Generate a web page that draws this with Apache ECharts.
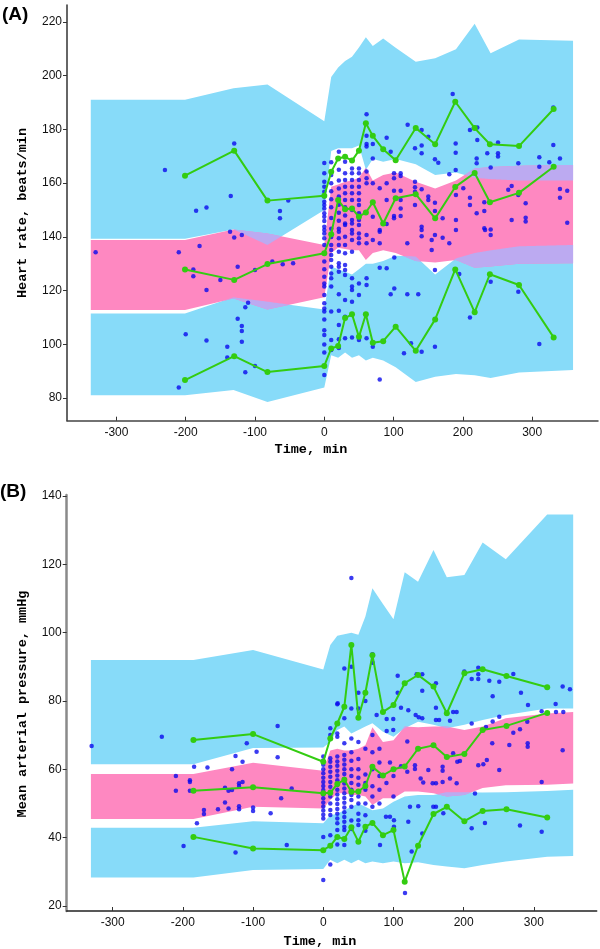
<!DOCTYPE html>
<html><head><meta charset="utf-8">
<script src="https://cdn.jsdelivr.net/npm/echarts@6/dist/echarts.min.js"></script>
<style>html,body{margin:0;padding:0;background:#fff}#c{width:600px;height:949px}</style>
</head><body><div id="c"></div>
<script>
// ---------- Tick labels ----------
const xTicks = [-300, -200, -100, 0, 100, 200, 300];
const aYTicks = [80, 100, 120, 140, 160, 180, 200, 220];
const bYTicks = [20, 40, 60, 80, 100, 120, 140];

// ---------- Panel A: bands (simulated 90% CIs) ----------
const aBandX = [-337, -201, -131, -82, 0, 10, 20, 30, 40, 50, 60, 70, 85, 103, 132, 160, 190, 217, 240, 281, 359];
const aUpHi  = [191, 191, 195.3, 196.7, 183, 199.5, 203, 205.5, 207, 210.5, 214.3, 211, 213.8, 210.4, 205.2, 206.5, 209.8, 219.3, 208.3, 213.5, 213];
const aUpLo  = [139.3, 139.3, 142.8, 137, 150, 172, 173, 173, 173, 174, 165, 169, 168, 169, 167, 163, 164, 162, 161.5, 161, 161];
const aMedHi = [138.8, 138.8, 142.8, 141.3, 137, 158.7, 159.5, 160.5, 161, 162, 165.7, 161, 163, 164, 160.5, 158, 161, 165.5, 166, 166.5, 166.8];
const aMedLo = [112.8, 112.8, 117.1, 113, 117.5, 134, 136, 135.5, 135, 135, 131.4, 134, 135, 134, 131, 130.5, 131.4, 128.5, 129, 130, 130.2];
const aLowHi = [111.5, 111.5, 117.5, 115.9, 113, 129, 128, 127, 126, 128, 130, 130, 131, 133, 132.7, 126, 132, 134, 135, 136.5, 137];
const aLowLo = [81.1, 81.1, 83, 78.6, 84, 96, 95, 97, 95, 96, 94, 95, 94, 91.5, 86, 88, 89, 88.5, 87.5, 89.5, 90.5];

// ---------- Panel A: observed percentiles ----------
const aPctX  = [-201, -130, -82, 0, 10, 20, 30, 40, 50, 60, 70, 85, 103, 132, 160, 189, 217, 239, 281, 331];
const aP95   = [162.8, 172.1, 153.5, 155.3, 164.2, 169.2, 169.8, 168.4, 172.1, 182.3, 177.6, 172.6, 168.5, 180.5, 174.5, 190.3, 180.5, 174.5, 173.8, 187.6];
const aP50   = [127.9, 124, 129.9, 133.9, 141, 153.7, 150.3, 150.6, 147.5, 149.1, 152.9, 145, 154.4, 155.9, 146.9, 158.6, 163.8, 152.9, 156.4, 166.1];
const aP05   = [86.7, 95.6, 89.7, 92, 98.5, 99.4, 109.8, 111.2, 102.8, 111.2, 100.6, 101.2, 106.6, 97.6, 109.3, 127.9, 112, 126.1, 122.1, 102.6];

// ---------- Panel A: observations ----------
const aObsPre = [[-330,134.3],[-230,164.9],[-210,134.3],[-210,84],[-200,103.8],[-189,127.9],[-189,125.4],[-185,149.7],[-180,136.6],[-170,150.9],[-170,120.2],[-170,101.4],[-150,124],[-140,99.1],[-140,95.1],[-136,141.9],[-135,155.2],[-130,174.8],[-130,139.8],[-125,128.9],[-125,109.5],[-119,140.7],[-119,106.8],[-119,105],[-119,101],[-114,113.8],[-114,89.6],[-110,115.5],[-100,127.7],[-100,92],[-75,130.8],[-64,149.6],[-64,146.9],[-60,129.8],[-52,153.5],[-45,130.2]];
const aColX = [0, 10, 21, 30, 40, 50];
const aColY = [
  [167.5,163.7,160.5,158.7,156.8,155,153.1,151.9,150.6,148.8,147.5,145.9,143.8,142.6,141.3,139.5,137,133.9,130.8,128,125.2,122.7,121.5,118.4,115.3,113.4,112.2,109.3,105.3,103.5,100,97,88.6],
  [167.8,163,160,157,154,151,147,143,140,137,135.1,133.3,131.4,128.9,126.4,124.6,121.5,112.2,101.6,97.9],
  [171.7,165,161,158,155,152,149,146,143,141.9,139.5,137,134.5,130.2,128.9,127,118.7,112.5,107.2,101.9,98.7],
  [168,163.7,161.2,158.7,156.2,153.7,151,148,145,144.4,140.1,137,133.9,129.5,127.7,125.8,116.5,110.3,102.3],
  [165.5,163.7,161.2,158.7,156.2,153.7,150,146.3,145,142.6,141.3,138.8,134.5,124.6,121.5,120.2,115.9,102.6],
  [165.5,163.7,161.2,158.7,156.2,153.7,151.9,148.8,146.3,144.4,141.3,139.5,137.6,122.7,118.4,103.1,101.6]
];
const aObsPost = [[61,185.6],[61,177.6],[61,174.6],[61,173.6],[61,164.3],[61,161.8],[61,160],[61,140.7],[61,137.6],[61,124.6],[61,122.1],[61,102.3],
[70,174.6],[70,169.2],[70,160],[70,147.5],[70,138.8],[70,99.1],[80,158.1],[80,142.6],[80,141.9],[80,137.6],[80,128.5],[80,86.9],
[90,176.9],[90,160],[90,153.7],[90,144.8],[90,128.3],[95.8,171.7],[95.8,118.7],[100.6,163.7],[100.6,161.8],[101,120.8],[101,132.3],[100.6,157.2],[100.6,147.8],[100.6,146.9],
[110.2,163.7],[110.2,162.7],[110.2,157.2],[110.2,153.7],[110.2,150.6],[110.2,147.8],[115,96.7],[119.8,137.6],[119.8,118.7],[120.3,181.7],[125.1,100.4],
[130.9,173],[130.9,160.5],[130.9,158.5],[130.9,156.8],[130.9,151.9],[135.6,118.7],[140.5,179.8],[140.5,174],[140.5,171.1],[140.5,157.7],[140.5,142.6],[140.5,140.2],[140.5,143.8],[140.5,97.3],
[150.1,177.3],[150.1,155],[150.1,153.7],[155,138.8],[155,135.1],[159.7,168.9],[159.7,152.7],[159.7,149.6],[159.7,140.7],[159.7,127.7],[159.7,99.1],[164.5,167.6],[170.8,146.9],[170.8,139.7],
[180.4,163.3],[180.4,137.6],[185.3,193.2],[189.6,174.8],[189.6,171.3],[190,155.6],[190,146.3],[190,142.6],[189.6,164.9],[194.8,126.2],[200.6,158.1],
[210.2,179.8],[210.2,154.6],[210.2,151.9],[210.2,110],[216,180.7],[220.8,180.7],[220.8,176.1],[219.9,169.2],[219.9,167.4],[219.9,148.8],[230.9,152.9],[230.9,149.6],[230.9,143.2],[232,142.6],
[235.2,171.1],[240.1,165.8],[240.1,142.8],[240.1,140.7],[240.1,123.3],[250.7,175.1],[250.7,171.1],[250.7,169.9],[265.5,157.5],[270.4,158.9],[270.4,146.3],
[280,167.4],[280,155.6],[280,119.6],[290.6,152.5],[290.6,147.1],[290.6,145.7],[310.3,169.6],[310.3,166.1],[310.3,100.1],[324.7,167.8],[330.5,174.2],[330.5,188.2],
[340.1,169.2],[340.1,157.8],[340.1,154.6],[350.6,157.2],[350.6,145.3]];

// ---------- Panel B: bands ----------
const bBandX = [-331, -185, -100, 0, 10, 20, 30, 40, 50, 60, 70, 85, 100, 116, 135, 157, 176, 201, 227, 260, 319, 356];
const bUpHi  = [92, 92, 94.9, 89.2, 96.4, 99.1, 99.5, 100, 99.4, 104.7, 113, 108.4, 103.9, 117.7, 114.9, 124.2, 116.2, 116.9, 126.4, 121.5, 134.6, 134.6];
const bUpLo  = [61.5, 61.5, 66.2, 66.4, 68, 71.5, 72.5, 70.5, 71.5, 72.5, 73.5, 71, 69.5, 72, 73.9, 73, 72, 73, 74.4, 75.9, 77.8, 77.8];
const bMedHi = [58.6, 58.6, 61.9, 59.6, 65.5, 66, 65.5, 65.5, 66, 67, 72.3, 68, 68.5, 72.5, 72.3, 72.5, 72.5, 71.5, 72.5, 74.9, 76.3, 76.8];
const bMedLo = [45.4, 45.4, 49.0, 48.5, 51, 53, 53, 52.5, 52.5, 52, 49.5, 51.5, 51.5, 53.5, 53.5, 53, 52, 52.5, 54.5, 55.3, 55.5, 55.8];
const bLowHi = [42.9, 42.9, 44.8, 44.2, 46.5, 47, 48, 49, 50, 49, 48, 48.5, 50.5, 52, 52.5, 52.5, 53.3, 53.3, 53.2, 53.3, 53.6, 54];
const bLowLo = [28.3, 28.3, 30.5, 30.8, 33.5, 32.5, 33.5, 32.5, 33.5, 32.5, 33, 32.5, 33, 32.5, 32.8, 32, 31.5, 31, 32, 33, 34.4, 34.6];

// ---------- Panel B: observed percentiles ----------
const bPctX = [-185, -100, 0, 10, 20, 30, 40, 50, 60, 70, 85, 100, 116, 135, 157, 176, 201, 227, 261, 319];
const bP95  = [68.6, 70.3, 62.2, 69, 73.4, 78.3, 96.4, 75.1, 82.4, 93.4, 76.8, 78.8, 85.2, 87.6, 84.2, 76.4, 88.1, 89.3, 87.3, 84];
const bP50  = [53.7, 54.7, 53, 53.1, 55.7, 56.9, 53.4, 53.5, 55.1, 60.7, 58.2, 60, 60.8, 66, 67, 63.6, 64.5, 71.5, 72.7, 76.5];
const bP05  = [40.2, 36.8, 36.3, 37.6, 40.2, 39.6, 43, 38.8, 43.2, 44.3, 40.7, 42.2, 27.1, 37.6, 46.9, 49, 44.8, 47.8, 48.3, 45.9];

// ---------- Panel B: observations ----------
const bObsPre = [[-330,66.8],[-230,69.5],[-210,58],[-210,53.7],[-199,37.5],[-190,56.8],[-190,56.3],[-190,53.7],[-184,60.7],[-180,44.2],[-170,48.1],[-170,46.9],[-165,60.5],[-150,48.3],[-140,54.6],[-140,50.3],[-135,53.7],[-135,48.5],[-130,53.9],[-130,60],[-125,63.9],[-125,35.6],[-120,55.9],[-120,55.1],[-120,49.2],[-120,48.3],[-115,56.3],[-115,62.2],[-109,67.6],[-100,48.8],[-100,47.8],[-95,65.1],[-75,47.1],[-65,72.7],[-65,63.5],[-60,51.5],[-52,37.8],[-45,54.4]];
const bColX = [0, 10, 20, 30, 40, 50];
const bColY = [
  [63.7,62.5,61.3,60,58.8,57.5,56.3,55.1,53.9,52.7,51.5,50.3,49.1,47.9,46.7,45.6,40.2,27.6],
  [72,70,63.2,62.2,60.7,59.3,57.8,56.3,54.9,53.4,52,50,48.1,46.6,40.7,32.1],
  [79,73.4,70.5,69.5,63.7,62.3,61,59.6,58.2,56.8,55.4,54,52.6,51.2,49.8,48.4,47,45.6,44.2,42.2,38],
  [89.5,74.9,67.6,64.2,62.8,61.4,60,58.6,57.2,55.8,54.4,53,51.6,50.2,48.8,47.4,46,44.6,43.2,42.2,37.8],
  [116,90,77.8,69,65,62.5,60,58,56,54,52.5,51,49,45,42.5],
  [82.4,77.8,68,63,60,57.5,55.5,53.5,52,50,47,45.1,43.7]
];
const bObsPost = [[20.5,79.3],[60,80],[60,66],[60,58.5],[60,56],[60,54],[60,50],[60,46.5],[60,42],
[70,93.7],[70.3,91.2],[70,70],[70,65],[70,60],[70,55],[70,52],[70,49],[70,44.3],[76,75.9],[80,66],[80,62],[80,58],[80,54],[80,50],[80.8,37.8],
[90.3,74.7],[99.7,74.7],[90.3,71.2],[99.7,71.5],[89.3,46.1],[95,46.1],[100.7,45.1],[100.7,43.2],[95,62],[100,58],[90,56],[100,52],
[106,87.4],[106,82.4],[110.7,78],[121.1,77.3],[110.7,60.9],[119.7,59.3],[119.7,68.1],[123.5,49],[121.1,44.6],[125.9,35.9],[116.4,23.8],
[133,87.8],[141,87.8],[141,83],[131.6,75.9],[136,75.2],[141,74.9],[130.6,60.1],[130.6,61.2],[135.3,49.2],[138.7,57.3],[142.4,56.1],[141,41.2],
[149.6,59.8],[155.8,55.9],[160.5,85.2],[160.5,78],[160.5,74.4],[165,74.4],[160.5,55.9],[160.5,49],[156.7,49],[171,47.1],
[170,60.7],[170,59.6],[170,56.3],[180.5,74.2],[180.5,57.3],[185,76.8],[190,76.8],[190,55.9],[190.9,62.2],[185,64.7],[194.7,62.4],[200.9,88.6],
[211.4,86.4],[220.8,89.7],[220.8,87.8],[220.8,86.4],[211.4,73.4],[216.1,52.9],[211.4,42.7],[220.8,61.2],[228,61.5],[233,62.7],[231.8,72.4],[230.3,44.3],
[236.5,85.9],[241.3,81.4],[241.3,74],[240.7,67.6],[250.7,85.6],[250.7,75.4],[250.7,59.8],[265,67.1],
[270.7,87.9],[270.7,70.7],[280.2,71.7],[281.6,82.4],[280.2,43.5],[290.6,73.9],[291.6,78.8],[291.2,67.6],[291.2,66.6],
[311.1,77],[311.1,56.3],[311.1,41.7],[331,79.1],[331.5,76.8],[341.9,76.8],[341,84.2],[341,65.6],[351.4,83.4]];

// ---------- helpers ----------
const BLUE = '#87dbf9', PINK = '#fe88c1', PURPLE = '#bcaaf1', DOT = '#0a0aee', GREEN = '#33cc11';
const MONO = "'Liberation Mono', 'DejaVu Sans Mono', monospace";
const SANS = "'Liberation Sans', Arial, sans-serif";

function interp(X, Y, x) {
  for (let i = 0; i < X.length - 1; i++) {
    if (x >= X[i] && x <= X[i + 1]) {
      const t = (x - X[i]) / (X[i + 1] - X[i]);
      return Y[i] + t * (Y[i + 1] - Y[i]);
    }
  }
  return Y[Y.length - 1];
}
function overlapBand(X, lo1, hi1, lo2, hi2) {
  const xs = [], lo = [], hi = [];
  for (let i = 0; i < X.length - 1; i++) {
    for (let k = 0; k < 40; k++) xs.push(X[i] + (X[i + 1] - X[i]) * k / 40);
  }
  xs.push(X[X.length - 1]);
  xs.forEach(x => {
    const b = Math.max(interp(X, lo1, x), interp(X, lo2, x));
    const t = Math.min(interp(X, hi1, x), interp(X, hi2, x));
    lo.push(b); hi.push(Math.max(b, t));
  });
  return {xs, lo, hi};
}
function band(idx, X, lo, hi, color, z) {
  return {
    type: 'custom', xAxisIndex: idx, yAxisIndex: idx, silent: true, z: z, clip: true,
    data: [[X[0], lo[0]]],
    renderItem: function (params, api) {
      const pts = [];
      for (let i = 0; i < X.length; i++) pts.push(api.coord([X[i], hi[i]]));
      for (let i = X.length - 1; i >= 0; i--) pts.push(api.coord([X[i], lo[i]]));
      return {type: 'polygon', shape: {points: pts}, style: {fill: color}};
    }
  };
}
function pctLine(idx, X, Y) {
  return {
    type: 'line', xAxisIndex: idx, yAxisIndex: idx, z: 5,
    data: X.map((x, i) => [x, Y[i]]),
    symbol: 'circle', symbolSize: 6, showSymbol: true,
    lineStyle: {color: GREEN, width: 2}, itemStyle: {color: GREEN}
  };
}
function obs(idx, pre, colX, colY, post) {
  const d = pre.slice();
  colX.forEach((x, i) => colY[i].forEach(v => d.push([x, v])));
  post.forEach(p => d.push(p));
  return {type: 'scatter', xAxisIndex: idx, yAxisIndex: idx, z: 4, data: d,
    symbolSize: 4.5, itemStyle: {color: DOT}};
}
function xAx(idx, min, max, lineColor) {
  return {
    type: 'value', gridIndex: idx, min: min, max: max,
    axisLine: {show: true, onZero: false, lineStyle: {color: lineColor, width: 1.5}},
    axisTick: {show: true, inside: true, length: 4, customValues: xTicks, lineStyle: {color: '#333'}},
    axisLabel: {customValues: xTicks, fontFamily: SANS, fontSize: 12, color: '#111', margin: 6},
    splitLine: {show: false}
  };
}
function yAx(idx, min, max, ticks, lineColor, lw) {
  return {
    type: 'value', gridIndex: idx, min: min, max: max,
    axisLine: {show: true, onZero: false, lineStyle: {color: lineColor, width: lw}},
    axisTick: {show: true, inside: false, length: 4, customValues: ticks, lineStyle: {color: '#333'}},
    axisLabel: {customValues: ticks, fontFamily: SANS, fontSize: 12, color: '#111', margin: 5},
    splitLine: {show: false}
  };
}

const aOv1 = overlapBand(aBandX, aUpLo, aUpHi, aMedLo, aMedHi);
const aOv2 = overlapBand(aBandX, aLowLo, aLowHi, aMedLo, aMedHi);
const bOv1 = overlapBand(bBandX, bUpLo, bUpHi, bMedLo, bMedHi);
const bOv2 = overlapBand(bBandX, bLowLo, bLowHi, bMedLo, bMedHi);

const chart = echarts.init(document.getElementById('c'), null, {renderer: 'canvas'});
chart.setOption({
  animation: false,
  backgroundColor: '#fff',
  grid: [
    {left: 67, top: 5, width: 531, height: 415.7},
    {left: 66.7, top: 495, width: 530, height: 416}
  ],
  xAxis: [xAx(0, -371.3, 395, '#444'), xAx(1, -365.5, 389.5, '#222')],
  yAxis: [yAx(0, 71.6, 226.3, aYTicks, '#333', 1.5), yAx(1, 18.5, 140.3, bYTicks, '#8a8a8a', 2.5)],
  series: [
    band(0, aBandX, aUpLo, aUpHi, BLUE, 1),
    band(0, aBandX, aLowLo, aLowHi, BLUE, 1),
    band(0, aBandX, aMedLo, aMedHi, PINK, 2),
    band(0, aOv1.xs, aOv1.lo, aOv1.hi, PURPLE, 3),
    band(0, aOv2.xs, aOv2.lo, aOv2.hi, PURPLE, 3),
    obs(0, aObsPre, aColX, aColY, aObsPost),
    pctLine(0, aPctX, aP95), pctLine(0, aPctX, aP50), pctLine(0, aPctX, aP05),
    band(1, bBandX, bUpLo, bUpHi, BLUE, 1),
    band(1, bBandX, bLowLo, bLowHi, BLUE, 1),
    band(1, bBandX, bMedLo, bMedHi, PINK, 2),
    band(1, bOv1.xs, bOv1.lo, bOv1.hi, PURPLE, 3),
    band(1, bOv2.xs, bOv2.lo, bOv2.hi, PURPLE, 3),
    obs(1, bObsPre, bColX, bColY, bObsPost),
    pctLine(1, bPctX, bP95), pctLine(1, bPctX, bP50), pctLine(1, bPctX, bP05)
  ],
  graphic: [
    {type: 'text', left: 2, top: 5, style: {text: '(A)', font: 'bold 19px ' + SANS, fill: '#000'}},
    {type: 'text', left: 0, top: 482, style: {text: '(B)', font: 'bold 19px ' + SANS, fill: '#000'}},
    {type: 'text', x: 23, y: 213, rotation: Math.PI / 2, style: {text: 'Heart rate, beats/min', font: 'bold 13.5px ' + MONO, fill: '#000', align: 'center', verticalAlign: 'middle'}},
    {type: 'text', x: 311, y: 450, style: {text: 'Time, min', font: 'bold 13.5px ' + MONO, fill: '#000', align: 'center', verticalAlign: 'middle'}},
    {type: 'text', x: 23, y: 704, rotation: Math.PI / 2, style: {text: 'Mean arterial pressure, mmHg', font: 'bold 13.5px ' + MONO, fill: '#000', align: 'center', verticalAlign: 'middle'}},
    {type: 'text', x: 320, y: 942, style: {text: 'Time, min', font: 'bold 13.5px ' + MONO, fill: '#000', align: 'center', verticalAlign: 'middle'}}
  ]
});
</script></body></html>
